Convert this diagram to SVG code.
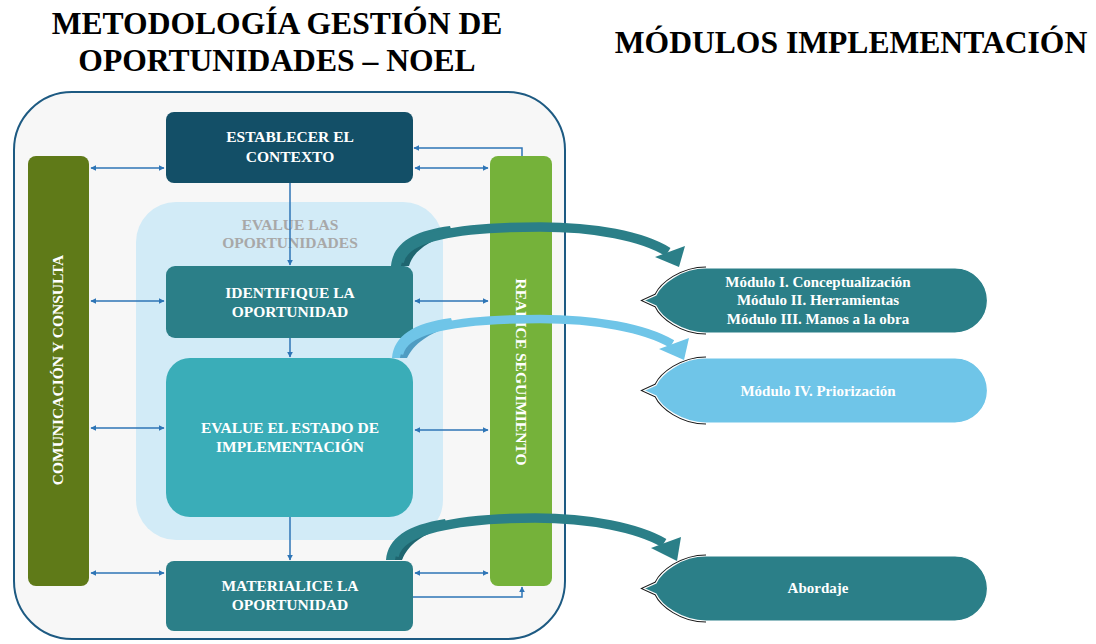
<svg xmlns="http://www.w3.org/2000/svg" width="1096" height="644" viewBox="0 0 1096 644">
<style>
text{font-family:"Liberation Serif","Times New Roman",serif;font-weight:bold;}
.title{font-size:31.6px;fill:#000;text-anchor:middle;}
.box{font-size:15.5px;fill:#fff;text-anchor:middle;}
.mod{font-size:15px;fill:#fff;text-anchor:middle;}
.conn{stroke:#2e75b6;stroke-width:1.5;fill:none;}
.outl{fill:none;stroke:#1a1a1a;stroke-width:3.2;}
</style>
<defs>
<marker id="ah" viewBox="0 0 10 10" refX="9" refY="5" markerWidth="6" markerHeight="6" markerUnits="userSpaceOnUse" orient="auto-start-reverse">
<path d="M0,0 L10,5 L0,10 Z" fill="#2e75b6"/>
</marker>
</defs>
<rect width="1096" height="644" fill="#fff"/>

<g id="titles">
<text class="title" x="277" y="34">METODOLOGÍA GESTIÓN DE</text>
<text class="title" x="277" y="71">OPORTUNIDADES – NOEL</text>
<text class="title" x="851" y="53">MÓDULOS IMPLEMENTACIÓN</text>
</g>

<g id="container">
<rect x="14" y="92" width="551" height="547" rx="58" fill="#f7f7f7" stroke="#1d5a82" stroke-width="2"/>
</g>

<g id="evalue-las">
<rect x="136" y="202" width="307" height="338" rx="40" fill="#d2ebf7"/>
<text class="box" x="290" y="230" style="fill:#a8a8a8">EVALUE LAS</text>
<text class="box" x="290" y="248" style="fill:#a8a8a8">OPORTUNIDADES</text>
</g>

<g id="comunicacion">
<rect x="28" y="156" width="61" height="430" rx="8" fill="#5f7a18"/>
<text class="box" transform="translate(58,370) rotate(-90)" x="0" y="5">COMUNICACIÓN Y CONSULTA</text>
</g>

<g id="seguimiento">
<rect x="490" y="156" width="62" height="430" rx="8" fill="#75b23a"/>
<text class="box" transform="translate(521,372) rotate(90)" x="0" y="5">REALICE SEGUIMIENTO</text>
</g>

<g id="establecer">
<rect x="166" y="112" width="247" height="71" rx="8" fill="#134f67"/>
<text class="box" x="290" y="142">ESTABLECER EL</text>
<text class="box" x="290" y="162">CONTEXTO</text>
</g>

<g id="identifique">
<rect x="166" y="266" width="247" height="72" rx="9" fill="#2b7f88"/>
<text class="box" x="290" y="298">IDENTIFIQUE LA</text>
<text class="box" x="290" y="317">OPORTUNIDAD</text>
</g>

<g id="evalue-estado">
<rect x="166" y="358" width="247" height="159" rx="24" fill="#3aadb8"/>
<text class="box" x="290" y="433">EVALUE EL ESTADO DE</text>
<text class="box" x="290" y="452">IMPLEMENTACIÓN</text>
</g>

<g id="materialice">
<rect x="166" y="561" width="247" height="70" rx="8" fill="#2b7f88"/>
<text class="box" x="290" y="591">MATERIALICE LA</text>
<text class="box" x="290" y="610">OPORTUNIDAD</text>
</g>

<g id="connectors">
<path class="conn" d="M91,168 H164" marker-start="url(#ah)" marker-end="url(#ah)"/>
<path class="conn" d="M91,301 H164" marker-start="url(#ah)" marker-end="url(#ah)"/>
<path class="conn" d="M91,428 H164" marker-start="url(#ah)" marker-end="url(#ah)"/>
<path class="conn" d="M91,573 H164" marker-start="url(#ah)" marker-end="url(#ah)"/>
<path class="conn" d="M415,168 H488" marker-start="url(#ah)" marker-end="url(#ah)"/>
<path class="conn" d="M415,301 H488" marker-start="url(#ah)" marker-end="url(#ah)"/>
<path class="conn" d="M415,430 H488" marker-start="url(#ah)" marker-end="url(#ah)"/>
<path class="conn" d="M415,573 H488" marker-start="url(#ah)" marker-end="url(#ah)"/>
<path class="conn" d="M290,183 V265" marker-end="url(#ah)"/>
<path class="conn" d="M290,338 V357" marker-end="url(#ah)"/>
<path class="conn" d="M290,517 V560" marker-end="url(#ah)"/>
<path class="conn" d="M522,156 V148 H414" marker-end="url(#ah)"/>
<path class="conn" d="M413,597 H522 V587" marker-end="url(#ah)"/>

<!-- curved arrow 1 -->
<path d="M391,266 C393,244 412,231 450,226 L452,232 C424,238 410,250 408,266 Z" fill="#2b7f88"/>
<path d="M401,266 C404,250 417,239 450,231 L452,234 C427,241 413,252 409,266 Z" fill="#1f6670"/>
<path d="M399,262 C404,236 460,227 540,227 C595,227 642,236 668,252" fill="none" stroke="#2b7f88" stroke-width="9.5"/>
<polygon points="655,257 685,246 679,267" fill="#2b7f88"/>

<!-- curved arrow 2 -->
<path d="M392,358 C394,336 413,323 451,318 L453,324 C425,330 411,342 406,358 Z" fill="#6fc5e8"/>
<path d="M400,358 C403,342 416,331 451,323 L453,326 C428,333 414,344 407,358 Z" fill="#4f9cc2"/>
<path d="M399,354 C404,328 460,319 540,319 C595,319 645,328 672,344" fill="none" stroke="#6fc5e8" stroke-width="8.5"/>
<polygon points="659,349 689,338 684,360" fill="#6fc5e8"/>

<!-- curved arrow 3 -->
<path d="M386,560 C388,538 407,525 445,519 L447,525 C419,531 405,543 402,560 Z" fill="#2b7f88"/>
<path d="M395,560 C398,544 411,533 445,524 L447,527 C422,534 408,545 402,560 Z" fill="#1f6670"/>
<path d="M394,556 C399,530 455,518 535,518 C590,518 638,528 664,543" fill="none" stroke="#2b7f88" stroke-width="9.5"/>
<polygon points="651,548 681,537 677,561" fill="#2b7f88"/>
</g>

<g id="modulo-1-3">
<path class="outl" d="M706,268 C681,268 661,284 656,295 L644,300.5 L656,306 C661,317 681,333 706,333"/>
<path d="M706,268 H955 A32.5 32.5 0 0 1 955,333 H706 C681,333 661,317 656,306 L644,300.5 L656,295 C661,284 681,268 706,268 Z" fill="#2b7f88" stroke="#fff" stroke-width="1.2"/>
<text class="mod" x="818" y="287">Módulo I. Conceptualización</text>
<text class="mod" x="818" y="305">Módulo II. Herramientas</text>
<text class="mod" x="818" y="324">Módulo III. Manos a la obra</text>
</g>

<g id="modulo-4">
<path class="outl" d="M706,358 C681,358 661,374 656,385 L644,390.5 L656,396 C661,407 681,423 706,423"/>
<path d="M706,358 H955 A32.5 32.5 0 0 1 955,423 H706 C681,423 661,407 656,396 L644,390.5 L656,385 C661,374 681,358 706,358 Z" fill="#6fc5e8" stroke="#fff" stroke-width="1.2"/>
<text class="mod" x="818" y="396">Módulo IV. Priorización</text>
</g>

<g id="abordaje">
<path class="outl" d="M706,556 C681,556 661,572 656,583 L644,588.5 L656,594 C661,605 681,621 706,621"/>
<path d="M706,556 H955 A32.5 32.5 0 0 1 955,621 H706 C681,621 661,605 656,594 L644,588.5 L656,583 C661,572 681,556 706,556 Z" fill="#2b7f88" stroke="#fff" stroke-width="1.2"/>
<text class="mod" x="818" y="593">Abordaje</text>
</g>
</svg>
